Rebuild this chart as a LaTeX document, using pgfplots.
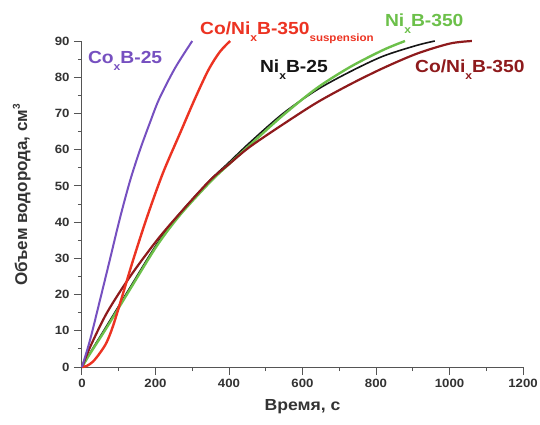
\documentclass[border=0pt]{standalone}
\usepackage{fontspec}
\setmainfont{Liberation Sans}[FakeStretch=1.1]
\newfontfamily\plainf{Liberation Sans}
\usepackage{pgfplots}
\pgfplotsset{compat=1.18}
\definecolor{cpurple}{HTML}{7650C0}
\definecolor{cred}{HTML}{EC3322}
\definecolor{cgreen}{HTML}{6CC04A}
\definecolor{cbrown}{HTML}{8E1A1C}
\definecolor{cblack}{HTML}{151515}
\definecolor{axgray}{HTML}{555555}
\definecolor{txtgray}{HTML}{333333}
\newcommand\sx{\raisebox{-7pt}{\fontsize{11}{11}\selectfont x}}
\begin{document}
\begin{tikzpicture}
\begin{axis}[
  scale only axis, width=441pt, height=326pt,
  xmin=0, xmax=1200, ymin=0, ymax=90,
  axis x line*=bottom, axis y line*=left,
  xtick={0,200,...,1200}, ytick={0,10,...,90},
  minor x tick num=1, minor y tick num=1,
  tick align=outside, major tick length=8pt, minor tick length=4pt,
  axis line style={axgray, line width=1pt},
  every tick/.style={axgray, line width=1pt},
  /pgf/number format/assume math mode=true,
  /pgf/number format/1000 sep={},
  ticklabel style={font=\bfseries\fontsize{12}{12}\selectfont, text=txtgray},
  xticklabel style={yshift=-1pt},
  yticklabel style={xshift=-1pt},
  clip=false,
  every axis plot/.append style={smooth, tension=0.5},
]
\addplot[cblack, line width=1.6pt] coordinates {
(0,0)(22,3.9)(68,11.5)(131,22)(204,34)(267,42.5)(348,51.5)(400,56.5)(457,62)(547,70)(639,76.5)(729,81.5)(819,85.8)(911,88.8)(960,90)};
\addplot[cgreen, line width=2.4pt] coordinates {
(0,0)(22,3.7)(68,11)(131,21.5)(204,33.5)(267,42)(348,51)(400,56)(457,61.3)(547,69.5)(639,77)(729,82.8)(819,87.5)(879,90)};
\addplot[cbrown, line width=2.2pt] coordinates {
(0,0)(22,5.5)(68,15)(131,25)(204,35)(267,42.5)(348,51.5)(400,56)(457,60.8)(547,67)(639,73)(729,78)(819,82.5)(911,86.5)(1001,89.3)(1061,90)};
\addplot[cred, line width=2.4pt] coordinates {
(0,0)(13,0.3)(30,1.5)(49,3.9)(67,6.8)(85,11.5)(112,20.4)(139,29.5)(177,41.4)(220,53.5)(267,64.6)(307,74)(344,82)(375,87)(403,90)};
\addplot[cpurple, line width=2pt] coordinates {
(0,0)(22,7.5)(49,18.5)(76,29.7)(103,41)(131,51.5)(158,60)(185,67.5)(210,74)(253,82.5)(300,90)};
\node[anchor=base west, text=cpurple, font=\bfseries\fontsize{17.5}{17.5}\selectfont, inner sep=0pt] at (axis cs:16,83.7) {Co\sx B-25};
\node[anchor=base west, text=cred, font=\bfseries\fontsize{17.5}{17.5}\selectfont, inner sep=0pt] at (axis cs:321,91.7) {Co/Ni\sx B-350\raisebox{-7pt}{\fontsize{10.5}{10.5}\selectfont suspension}};
\node[anchor=base west, text=cgreen, font=\bfseries\fontsize{17.5}{17.5}\selectfont, inner sep=0pt] at (axis cs:824,93.9) {Ni\sx B-350};
\node[anchor=base west, text=cblack, font=\bfseries\fontsize{17.5}{17.5}\selectfont, inner sep=0pt] at (axis cs:484,81.4) {Ni\sx B-25};
\node[anchor=base west, text=cbrown, font=\bfseries\fontsize{17.5}{17.5}\selectfont, inner sep=0pt] at (axis cs:906,81.2) {Co/Ni\sx B-350};
\end{axis}
\node[anchor=base, text=txtgray, font=\bfseries\fontsize{16}{16}\selectfont, inner sep=0pt] at (220.5pt,-43pt) {Время, с};
\node[anchor=base, rotate=90, text=txtgray, font=\plainf\bfseries\fontsize{17}{17}\selectfont, inner sep=0pt] at (-55pt,172pt) {Объем водорода, см\raisebox{7pt}{\fontsize{10}{10}\selectfont 3}};
\pgfresetboundingbox
\path[use as bounding box] (-82pt,-57pt) rectangle (458pt,367pt);
\end{tikzpicture}
\end{document}
